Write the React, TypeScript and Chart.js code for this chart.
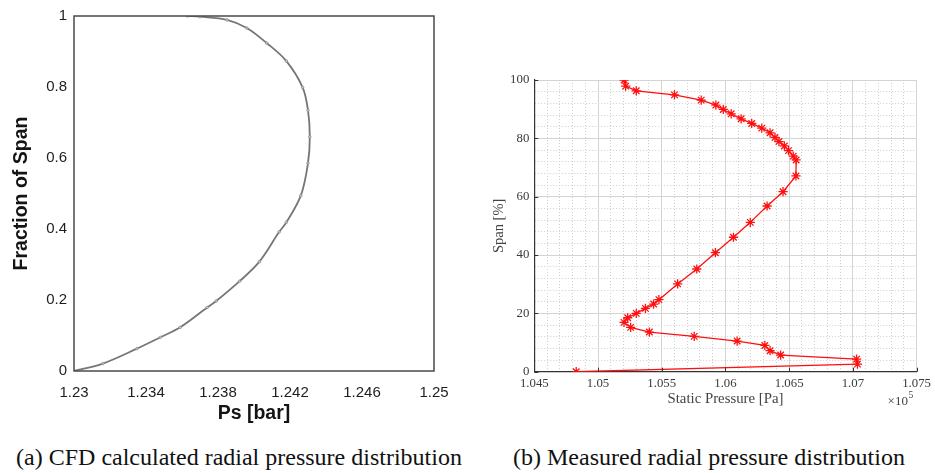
import React, { useEffect, useRef } from "react";
import { Chart, registerables } from "chart.js";

Chart.register(...registerables);

// ---- (a) CFD calculated radial pressure distribution ----
const cfdPressureBar = [
  1.23, 1.2316, 1.2335, 1.2348, 1.2359, 1.2374, 1.2379, 1.2392, 1.2403, 1.2414, 1.2418,
  1.2426, 1.243, 1.2431, 1.243, 1.2427, 1.2418, 1.2407, 1.2396, 1.2385, 1.237, 1.2363,
];
const cfdSpanFraction = [
  0, 0.021, 0.063, 0.095, 0.123, 0.179, 0.197, 0.253, 0.308, 0.392, 0.419,
  0.494, 0.586, 0.66, 0.734, 0.799, 0.873, 0.924, 0.966, 0.989, 0.998, 1.0,
];
const cfdPressureTicks = [1.23, 1.234, 1.238, 1.242, 1.246, 1.25];
const cfdPressureLabels = ["1.23", "1.234", "1.238", "1.242", "1.246", "1.25"];
const cfdSpanTicks = [0, 0.2, 0.4, 0.6, 0.8, 1];
const cfdSpanLabels = ["0", "0.2", "0.4", "0.6", "0.8", "1"];

// ---- (b) Measured radial pressure distribution ----
const measuredSpanPct = [
  0, 2.6, 4.3, 5.7, 7.2, 9.0, 10.5, 12.1, 13.6, 15.2,
  16.9, 18.5, 20.0, 21.7, 23.2, 24.7, 30.1, 35.2, 40.8, 46.1,
  51.2, 56.8, 61.7, 67.1, 72.6, 73.9, 75.8, 77.4, 78.9, 80.3,
  81.9, 83.5, 85.1, 86.7, 88.4, 89.9, 91.4, 93.1, 94.9, 96.3,
  97.9, 100,
];
const measuredPressurePa = [
  104829, 107036, 107029, 106433, 106350, 106309, 106092, 105755, 105403, 105256,
  105204, 105233, 105300, 105372, 105436, 105478, 105625, 105775, 105921, 106063,
  106195, 106327, 106452, 106553, 106555, 106532, 106495, 106462, 106420, 106389,
  106350, 106285, 106206, 106123, 106045, 105983, 105925, 105810, 105600, 105300,
  105217, 105205,
];
const pressureMajorTicks = [104500, 105000, 105500, 106000, 106500, 107000, 107500];
const pressureMajorLabels = ["1.045", "1.05", "1.055", "1.06", "1.065", "1.07", "1.075"];
const spanMajorTicks = [0, 20, 40, 60, 80, 100];
const spanMajorLabels = ["0", "20", "40", "60", "80", "100"];

const SANS = "'Liberation Sans', Arial, sans-serif";
const SERIF = "'Liberation Serif', 'Times New Roman', serif";

// Box around the plotting area of the CFD panel
const framePlugin = {
  id: "frame",
  afterDraw(chart: any) {
    const { ctx, chartArea: a } = chart;
    ctx.save();
    ctx.strokeStyle = "#4a4a4a";
    ctx.lineWidth = 1.5;
    ctx.strokeRect(a.left, a.top, a.right - a.left, a.bottom - a.top);
    ctx.restore();
  },
};

// Inward tick marks and the x10^5 exponent of the measured panel
const measuredAxisPlugin = {
  id: "measuredAxis",
  afterDraw(chart: any) {
    const { ctx, chartArea: a, scales } = chart;
    ctx.save();
    ctx.strokeStyle = "#333";
    ctx.lineWidth = 1;
    ctx.beginPath();
    pressureMajorTicks.forEach((v) => {
      const x = Math.round(scales.x.getPixelForValue(v)) + 0.5;
      ctx.moveTo(x, a.bottom);
      ctx.lineTo(x, a.bottom - 4);
    });
    spanMajorTicks.forEach((v) => {
      const y = Math.round(scales.y.getPixelForValue(v)) + 0.5;
      ctx.moveTo(a.left, y);
      ctx.lineTo(a.left + 4, y);
    });
    ctx.stroke();

    ctx.fillStyle = "#444";
    ctx.textBaseline = "alphabetic";
    ctx.textAlign = "left";
    ctx.font = `13px ${SERIF}`;
    const bx = a.right - 29;
    const by = a.bottom + 33;
    ctx.fillText("\u00d710", bx, by);
    const w = ctx.measureText("\u00d710").width;
    ctx.font = `9.5px ${SERIF}`;
    ctx.fillText("5", bx + w + 0.5, by - 7);
    ctx.restore();
  },
};

export default function App() {
  const cfdRef = useRef<HTMLCanvasElement>(null);
  const measuredRef = useRef<HTMLCanvasElement>(null);

  useEffect(() => {
    const cfdChart = new Chart(cfdRef.current as HTMLCanvasElement, {
      type: "scatter",
      data: {
        datasets: [
          {
            data: cfdPressureBar.map((p, i) => ({ x: p, y: cfdSpanFraction[i] })),
            showLine: true,
            tension: 0.35,
            borderColor: "#767676",
            borderWidth: 1.8,
            pointRadius: 1.3,
            pointBackgroundColor: "#c4c4c4",
            pointBorderColor: "#8a8a8a",
            pointBorderWidth: 0.7,
          },
        ],
      },
      options: {
        responsive: false,
        animation: false,
        devicePixelRatio: 1,
        layout: { padding: { left: 0, right: 36, top: 11, bottom: 0 } },
        plugins: { legend: { display: false }, tooltip: { enabled: false } },
        scales: {
          x: {
            type: "linear",
            min: 1.23,
            max: 1.25,
            afterBuildTicks: (s: any) => {
              s.ticks = cfdPressureTicks.map((v) => ({ value: v }));
            },
            afterFit: (s: any) => {
              s.height = 69;
            },
            grid: { display: false, drawTicks: false },
            border: { display: false },
            ticks: {
              autoSkip: false,
              maxRotation: 0,
              padding: 13,
              color: "#1e1e1e",
              font: { family: SANS, size: 15 },
              callback: (_v: any, i: number) => cfdPressureLabels[i],
            },
            title: {
              display: true,
              text: "Ps [bar]",
              color: "#141414",
              font: { family: SANS, size: 19.5, weight: "bold" },
              padding: { top: 0, bottom: 15 },
            },
          },
          y: {
            type: "linear",
            min: 0,
            max: 1,
            afterBuildTicks: (s: any) => {
              s.ticks = cfdSpanTicks.map((v) => ({ value: v }));
            },
            afterFit: (s: any) => {
              s.width = 74;
            },
            grid: { display: false, drawTicks: false },
            border: { display: false },
            ticks: {
              autoSkip: false,
              padding: 7,
              color: "#1e1e1e",
              font: { family: SANS, size: 15 },
              callback: (_v: any, i: number) => cfdSpanLabels[i],
            },
            title: {
              display: true,
              text: "Fraction of Span",
              color: "#141414",
              font: { family: SANS, size: 19.5, weight: "bold" },
              padding: { top: 10, bottom: 0 },
            },
          },
        },
      },
      plugins: [framePlugin],
    } as any);

    const isMajor = (list: number[], v: any) => v !== undefined && list.indexOf(v) >= 0;

    const measuredChart = new Chart(measuredRef.current as HTMLCanvasElement, {
      type: "scatter",
      data: {
        datasets: [
          {
            data: measuredPressurePa.map((p, i) => ({ x: p, y: measuredSpanPct[i] })),
            showLine: true,
            borderColor: "#ff1010",
            borderWidth: 1.3,
            pointStyle: "star",
            pointRadius: 4.6,
            pointBorderColor: "#ff1010",
            pointBackgroundColor: "#ff1010",
            pointBorderWidth: 1.3,
          },
        ],
      },
      options: {
        responsive: false,
        animation: false,
        devicePixelRatio: 1,
        layout: { padding: { left: 0, right: 14, top: 40, bottom: 0 } },
        plugins: { legend: { display: false }, tooltip: { enabled: false } },
        scales: {
          x: {
            type: "linear",
            min: 104500,
            max: 107500,
            afterFit: (s: any) => {
              s.height = 48.3;
            },
            grid: {
              drawTicks: false,
              lineWidth: 1,
              color: (c: any) =>
                isMajor(pressureMajorTicks, c.tick?.value) ? "#d4d4d4" : "#cfcfcf",
            },
            border: {
              display: true,
              color: "#333",
              width: 1.2,
              dash: (c: any) =>
                c.tick && !isMajor(pressureMajorTicks, c.tick.value) ? [1, 2] : [],
            },
            ticks: {
              stepSize: 100,
              autoSkip: false,
              maxRotation: 0,
              padding: 4,
              color: "#3a3a3a",
              font: { family: SERIF, size: 12.8 },
              callback: (v: any) => {
                const k = pressureMajorTicks.indexOf(v);
                return k >= 0 ? pressureMajorLabels[k] : "";
              },
            },
            title: {
              display: true,
              text: "Static Pressure [Pa]",
              color: "#444",
              font: { family: SERIF, size: 14.8 },
              padding: { top: 0, bottom: 12.5 },
            },
          },
          y: {
            type: "linear",
            min: 0,
            max: 100,
            afterFit: (s: any) => {
              s.width = 54.3;
            },
            grid: {
              drawTicks: false,
              lineWidth: 1,
              color: (c: any) =>
                isMajor(spanMajorTicks, c.tick?.value) ? "#d4d4d4" : "#cfcfcf",
            },
            border: {
              display: true,
              color: "#333",
              width: 1.2,
              dash: (c: any) =>
                c.tick && !isMajor(spanMajorTicks, c.tick.value) ? [1, 2] : [],
            },
            ticks: {
              stepSize: 4,
              autoSkip: false,
              padding: 5,
              color: "#3a3a3a",
              font: { family: SERIF, size: 12.8 },
              callback: (v: any) => {
                const k = spanMajorTicks.indexOf(v);
                return k >= 0 ? spanMajorLabels[k] : "";
              },
            },
            title: {
              display: true,
              text: "Span [%]",
              color: "#444",
              font: { family: SERIF, size: 14.5 },
              padding: { top: 10, bottom: 0 },
            },
          },
        },
      },
      plugins: [measuredAxisPlugin],
    } as any);

    return () => {
      cfdChart.destroy();
      measuredChart.destroy();
    };
  }, []);

  const caption: React.CSSProperties = {
    position: "absolute",
    top: 444,
    height: 26,
    lineHeight: "26px",
    textAlign: "center",
    fontFamily: SERIF,
    fontSize: 24,
    color: "#111",
    whiteSpace: "nowrap",
  };

  return (
    <div
      style={{
        position: "absolute",
        left: 0,
        top: 0,
        width: 935,
        height: 473,
        background: "#fff",
        overflow: "hidden",
      }}
    >
      <canvas
        ref={cfdRef}
        width={470}
        height={440}
        style={{ position: "absolute", left: 0, top: 0, width: 470, height: 440 }}
      />
      <canvas
        ref={measuredRef}
        width={455}
        height={380}
        style={{ position: "absolute", left: 480, top: 40, width: 455, height: 380 }}
      />
      <div style={{ ...caption, left: 0, width: 478 }}>
        (a) CFD calculated radial pressure distribution
      </div>
      <div style={{ ...caption, left: 480, width: 458 }}>
        (b) Measured radial pressure distribution
      </div>
    </div>
  );
}
